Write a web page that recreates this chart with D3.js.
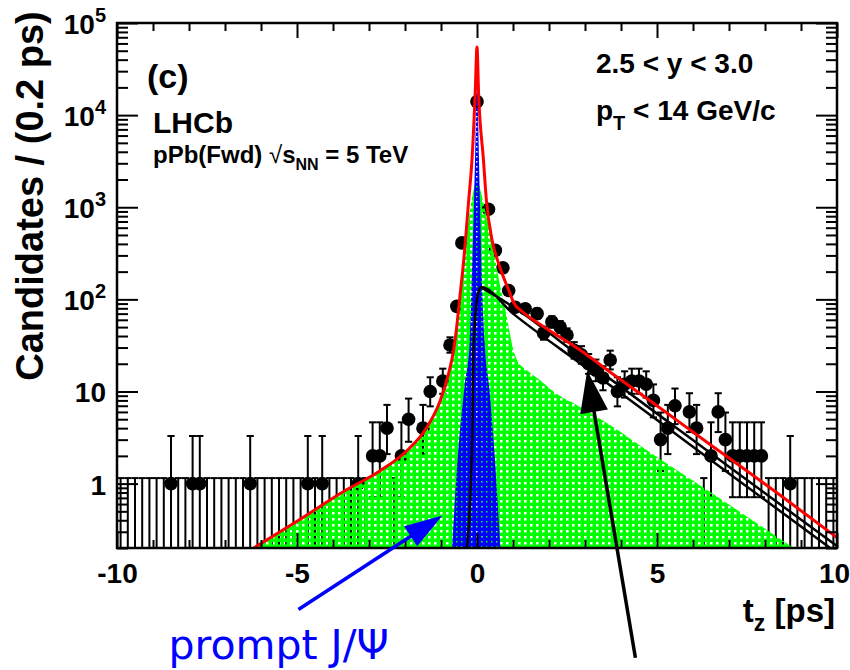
<!DOCTYPE html>
<html>
<head>
<meta charset="utf-8">
<script src="https://cdn.jsdelivr.net/npm/d3@7"></script>
<style>
  body { margin: 0; background: #fff; }
  svg { display: block; }
  text { font-family: "Liberation Sans", Arial, Helvetica, sans-serif; font-weight: bold; fill: #000; }
</style>
</head>
<body>
<svg id="chart" width="850" height="670"></svg>
<script>
// ---- measured candidates per bin (t_z bin centre in ps, candidates / 0.2 ps) ----
const binCenters = [
  -9.9,-9.7,-9.5,-9.3,-9.1,-8.9,-8.7,-8.5,-8.3,-8.1,
  -7.9,-7.7,-7.5,-7.3,-7.1,-6.9,-6.7,-6.5,-6.3,-6.1,
  -5.9,-5.7,-5.5,-5.3,-5.1,-4.9,-4.7,-4.5,-4.3,-4.1,
  -3.9,-3.7,-3.5,-3.3,-3.1,-2.9,-2.7,-2.5,-2.3,-2.1,
  -1.9,-1.5,-1.3,-0.95,-0.75,-0.56,-0.42,0,
  0.32,0.51,0.72,0.88,1.06,1.34,1.67,1.85,2.08,2.31,2.5,
  2.7,2.9,3.1,3.3,3.5,3.7,3.9,4.1,4.3,4.5,4.7,4.9,5.1,5.3,5.5,
  5.9,6.1,6.3,6.5,6.7,6.9,7.1,7.3,7.5,7.7,7.9,8.1,8.3,8.5,8.7,8.9,9.1,9.3,9.5,9.7,9.9
];
const counts = [
  0,0,0,0,0,0,0,1,0,0,
  1,1,0,0,0,0,0,0,1,0,
  0,0,0,0,0,0,1,0,1,0,
  0,0,0,1,0,2,2,4,0,2,
  5,4,10,13,32,84,410,14000,
  950,340,220,125,82,79,70,43,57,50,41,
  28,25,20,17,14,22,10,12,13,13,12,8,3,4,7,
  6,4,0,2,6,3,2,2,2,2,2,0,0,0,1,0,0,0,0,0,0
];

// ---- fit components (t_z in ps, candidates / 0.2 ps) ----
const totalT = [-6.2,-5.0,-3.66,-2.69,-1.94,-1.39,-1.02,-0.79,-0.65,-0.575,-0.47,-0.37,-0.23,-0.14,-0.05,0,
                0.044,0.18,0.26,0.42,0.6,0.88,1.02,1.29,1.8,2.87,3.79,4.72,5.65,6.57,7.5,8.5,10.0];
const totalV = [0.2,0.39,0.84,1.38,2.29,4.1,8.0,15.6,28,46,112,263,1200,3240,17400,55000,
                17400,3240,1200,437,245,126,92,72,52,28,15.3,8.4,4.56,2.5,1.37,0.71,0.26];

const bkgT = [-6.2,-5.0,-3.66,-2.69,-1.94,-1.39,-1.02,-0.79,-0.65,-0.575,-0.47,-0.37,-0.23,-0.1,0,0.1,0.23,0.35,
              0.51,0.65,0.79,0.88,0.97,1.11,1.39,1.76,2.22,2.87,3.79,4.72,6.5,8.79];
const bkgV = [0.2,0.39,0.84,1.38,2.29,4.1,8.0,15.6,27,44,100,240,750,1500,2000,1500,900,560,
              263,135,76,50,33,22,17,13.2,9.4,6.8,4.1,2.3,0.8,0.2];

const promptT = [-0.69,-0.52,-0.35,-0.2,-0.13,-0.08,-0.03,0,0.03,0.08,0.12,0.21,0.35,0.48,0.65];
const promptV = [0.2,2.3,11,35,263,1200,10000,45000,10000,1200,263,35,10,2.3,0.2];

const nonpromptT = [-0.28,-0.14,-0.09,0.04,0.12,1.0,3.0,5.0,7.0,9.81];
const nonpromptV = [0.2,2.3,35,120,135,70,18.5,4.9,1.29,0.2];
const nonpromptEdgeT = [0.12,1.0,3.0,5.0,7.0,10.0];
const nonpromptEdgeV = [135,83,21.8,5.75,1.52,0.21];

const xMajorTicks = [-10,-5,0,5,10];
const xTickLabels = ["-10","-5","0","5","10"];
const yMajorTicks = [1,10,100,1000,10000,100000];
const yTickLabels = [["1",""],["10",""],["10","2"],["10","3"],["10","4"],["10","5"]];

// ---- layout ----
const svg = d3.select("#chart");
const L = 117, R = 837, T = 23, B = 548;
const x = d3.scaleLinear().domain([-10, 10]).range([L, R]);
const y = d3.scaleLog().domain([0.2, 1e5]).range([B, T]);

const defs = svg.append("defs");
defs.append("clipPath").attr("id", "plotclip")
  .append("rect").attr("x", L).attr("y", T).attr("width", R - L).attr("height", B - T);

// dotted fill patterns (holes let the layer below show through)
const gp = defs.append("pattern").attr("id", "greenDots")
  .attr("patternUnits", "userSpaceOnUse").attr("width", 6).attr("height", 6);
gp.append("path").attr("d", "M0,0H6V6H0Z M2,2V4.5H4.5V2Z")
  .attr("fill", "#00ff00").attr("fill-rule", "evenodd");
const bp = defs.append("pattern").attr("id", "blueDots")
  .attr("patternUnits", "userSpaceOnUse").attr("width", 5).attr("height", 5);
bp.append("path").attr("d", "M0,0H5V5H0Z M1,1V2.5H2.5V1Z")
  .attr("fill", "#0000ff").attr("fill-rule", "evenodd");

const plot = svg.append("g").attr("clip-path", "url(#plotclip)");

// ---- data: error bars and markers ----
function chi2q(k, z) { const a = 2 / (9 * k); return k * Math.pow(1 - a + z * Math.sqrt(a), 3); }
const data = binCenters.map((t, i) => {
  const n = counts[i];
  const lo = n > 0 ? 0.5 * chi2q(2 * n, -1) : 0.01;
  const hi = n > 0 ? 0.5 * chi2q(2 * n + 2, 1) : 1.148;
  return { t, n, lo, hi };
});
const capHalf = x(0.1) - x(0);
const yBottom = y.range()[0];
const dataG = plot.append("g").attr("stroke", "#000").attr("stroke-width", 2);
data.forEach(d => {
  const yHi = y(d.hi), yLo = Math.min(y(Math.max(d.lo, 0.01)), yBottom + 5);
  dataG.append("line").attr("x1", x(d.t)).attr("x2", x(d.t)).attr("y1", yHi).attr("y2", yLo);
  dataG.append("line").attr("x1", x(d.t) - capHalf).attr("x2", x(d.t) + capHalf).attr("y1", yHi).attr("y2", yHi);
  if (d.n > 0 && d.lo > 0.2) {
    dataG.append("line").attr("x1", x(d.t) - capHalf).attr("x2", x(d.t) + capHalf).attr("y1", y(d.lo)).attr("y2", y(d.lo));
  }
});
plot.append("g").selectAll("circle").data(data.filter(d => d.n > 0)).join("circle")
  .attr("cx", d => x(d.t)).attr("cy", d => y(d.n)).attr("r", 6.8).attr("fill", "#000");

// ---- fit components ----
const pts = (ts, vs) => ts.map((t, i) => [t, vs[i]]);
const area = d3.area().x(d => x(d[0])).y0(yBottom).y1(d => y(d[1])).curve(d3.curveMonotoneX);
const line = d3.line().x(d => x(d[0])).y(d => y(d[1])).curve(d3.curveMonotoneX);

plot.append("path").attr("d", area(pts(bkgT, bkgV))).attr("fill", "url(#greenDots)");
plot.append("path").attr("d", area(pts(promptT, promptV))).attr("fill", "url(#blueDots)");
plot.append("path").attr("d", line(pts(nonpromptT, nonpromptV)))
  .attr("fill", "none").attr("stroke", "#000").attr("stroke-width", 2.5);
plot.append("path").attr("d", line(pts(nonpromptEdgeT, nonpromptEdgeV)))
  .attr("fill", "none").attr("stroke", "#000").attr("stroke-width", 2.5);
plot.append("path").attr("d", line(pts(totalT, totalV)))
  .attr("fill", "none").attr("stroke", "#ff0000").attr("stroke-width", 3).attr("stroke-linejoin", "round");

// ---- axes ----
const minorX = d3.range(-10, 10.01, 1).filter(v => !xMajorTicks.includes(v));
const minorY = [];
for (let e = -1; e <= 4; e++) for (let m = 2; m <= 9; m++) {
  const v = m * Math.pow(10, e);
  if (v >= 0.2 && v <= 1e5) minorY.push(v);
}
function styleAxis(g) {
  g.select(".domain").remove();
  g.selectAll(".tick line").attr("stroke", "#000").attr("stroke-width", 2);
}
svg.append("g").attr("transform", `translate(0,${B})`)
  .call(d3.axisBottom(x).tickValues(minorX).tickSize(-8).tickFormat("")).call(styleAxis);
const xAx = svg.append("g").attr("transform", `translate(0,${B})`)
  .call(d3.axisBottom(x).tickValues(xMajorTicks).tickSize(-15).tickPadding(15)
    .tickFormat((d, i) => xTickLabels[i])).call(styleAxis);
xAx.selectAll("text").attr("font-size", 28).attr("font-family", "Liberation Sans, Arial, sans-serif")
  .attr("font-weight", "bold").attr("fill", "#000")
  .attr("dx", d => d === 10 ? -3 : 0);
svg.append("g").attr("transform", `translate(0,${T})`)
  .call(d3.axisTop(x).tickValues(minorX).tickSize(-8).tickFormat("")).call(styleAxis);
svg.append("g").attr("transform", `translate(0,${T})`)
  .call(d3.axisTop(x).tickValues(xMajorTicks).tickSize(-15).tickFormat("")).call(styleAxis);
svg.append("g").attr("transform", `translate(${L},0)`)
  .call(d3.axisLeft(y).tickValues(minorY).tickSize(-11).tickFormat("")).call(styleAxis);
svg.append("g").attr("transform", `translate(${L},0)`)
  .call(d3.axisLeft(y).tickValues(yMajorTicks).tickSize(-21).tickFormat("")).call(styleAxis);
svg.append("g").attr("transform", `translate(${R},0)`)
  .call(d3.axisRight(y).tickValues(minorY).tickSize(-11).tickFormat("")).call(styleAxis);
svg.append("g").attr("transform", `translate(${R},0)`)
  .call(d3.axisRight(y).tickValues(yMajorTicks).tickSize(-21).tickFormat("")).call(styleAxis);

// y tick labels with exponents
yMajorTicks.forEach((v, i) => {
  const [base, sup] = yTickLabels[i];
  const t = svg.append("text").attr("x", 106).attr("y", y(v) + 11)
    .attr("text-anchor", "end").attr("font-size", 28);
  t.append("tspan").text(base);
  if (sup) t.append("tspan").attr("font-size", 20).attr("dy", -12).text(sup);
});

// frame
svg.append("rect").attr("x", L).attr("y", T).attr("width", R - L).attr("height", B - T)
  .attr("fill", "none").attr("stroke", "#000").attr("stroke-width", 2.5);

// ---- axis titles ----
svg.append("text").attr("transform", "translate(43,196) rotate(-90)")
  .attr("text-anchor", "middle").attr("font-size", 38).text("Candidates / (0.2 ps)");
const xt = svg.append("text").attr("x", 835).attr("y", 622).attr("text-anchor", "end").attr("font-size", 33);
xt.append("tspan").text("t");
xt.append("tspan").attr("font-size", 23).attr("dy", 9).text("z");
xt.append("tspan").attr("dy", -9).text(" [ps]");

// ---- plot labels ----
svg.append("text").attr("x", 147).attr("y", 88).attr("font-size", 34).text("(c)");
svg.append("text").attr("x", 153).attr("y", 133).attr("font-size", 30).text("LHCb");
const energy = svg.append("text").attr("x", 153).attr("y", 163).attr("font-size", 24);
energy.append("tspan").text("pPb(Fwd) ");
energy.append("tspan").attr("font-weight", "normal").text("\u221A");
energy.append("tspan").text("s");
energy.append("tspan").attr("font-size", 16).attr("dy", 7).text("NN");
energy.append("tspan").attr("dy", -7).text(" = 5 TeV");

svg.append("text").attr("x", 596).attr("y", 73).attr("font-size", 28).text("2.5 < y < 3.0");
const pt = svg.append("text").attr("x", 596).attr("y", 120).attr("font-size", 28);
pt.append("tspan").text("p");
pt.append("tspan").attr("font-size", 20).attr("dy", 10).text("T");
pt.append("tspan").attr("dy", -10).text(" < 14 GeV/c");

// ---- annotations (anchored in data coordinates) ----
const promptArrow = { from: [-4.96, 0.043], to: [-0.96, 0.45] };
const nonpromptArrow = { from: [4.40, 0.0129], to: [3.06, 16.9] };
function arrow(a, color, headLen, headHalf, width) {
  const x0 = x(a.from[0]), y0 = y(a.from[1]), x1 = x(a.to[0]), y1 = y(a.to[1]);
  const len = Math.hypot(x1 - x0, y1 - y0), ux = (x1 - x0) / len, uy = (y1 - y0) / len;
  const bx = x1 - ux * headLen, by = y1 - uy * headLen;
  svg.append("line").attr("x1", x0).attr("y1", y0).attr("x2", bx + ux * 2).attr("y2", by + uy * 2)
    .attr("stroke", color).attr("stroke-width", width);
  svg.append("path").attr("fill", color).attr("d",
    `M${x1},${y1}L${bx - uy * headHalf},${by + ux * headHalf}L${bx + uy * headHalf},${by - ux * headHalf}Z`);
}
arrow(promptArrow, "#0000ff", 38, 12, 3.5);
arrow(nonpromptArrow, "#000000", 42, 14, 3.5);

svg.append("text").attr("x", x(-8.57)).attr("y", y(0.0125))
  .attr("font-size", 41).style("fill", "#0000ff")
  .style("font-family", "'DejaVu Sans', sans-serif").style("font-weight", "normal")
  .text("prompt J/\u03A8");
</script>
</body>
</html>
